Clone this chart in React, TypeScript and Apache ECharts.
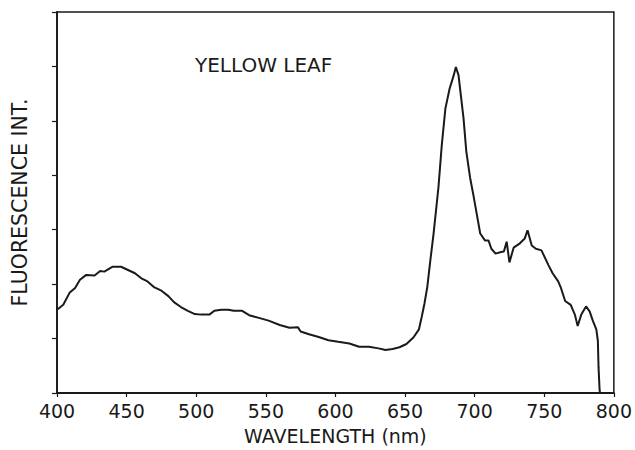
import React, { useEffect, useRef } from "react";
import * as echarts from "echarts";

const titleText = "YELLOW LEAF";
const xAxisName = "WAVELENGTH (nm)";
const yAxisName = "FLUORESCENCE INT.";
const xTicks = [400, 450, 500, 550, 600, 650, 700, 750, 800];

const wavelength = [
  400, 404.5, 409, 413, 416.5, 421, 427, 431, 434, 440, 446, 451, 456, 461, 465, 470, 475, 480, 484, 489,
  494, 499, 503.5, 509.5, 513, 518, 523, 527, 533, 538, 542, 545, 552, 560, 567, 573, 575, 581, 588, 595,
  602, 610, 617, 624, 631, 636, 641, 646, 651, 656, 660, 662, 664, 666, 668, 670.5, 674, 676.4, 679, 682,
  685, 686.5, 688.4, 692, 694, 696.7, 699, 701.5, 704, 707.5, 710, 712, 715, 719, 721, 723, 725, 728, 732.5, 736,
  738, 741, 744, 748, 753, 756, 760, 762, 765, 769, 772, 774, 776.6, 780, 782.6, 785, 787.4, 788.5, 789, 789.7,
  790,
];

const intensity = [
  1.53, 1.62, 1.84, 1.93, 2.08, 2.17, 2.16, 2.24, 2.23, 2.32, 2.32, 2.26, 2.2, 2.1, 2.05, 1.94, 1.88, 1.78, 1.67, 1.58,
  1.51, 1.45, 1.44, 1.44, 1.51, 1.53, 1.53, 1.51, 1.51, 1.43, 1.4, 1.38, 1.33, 1.25, 1.2, 1.21, 1.13, 1.08, 1.03, 0.97,
  0.94, 0.91, 0.85, 0.85, 0.82, 0.79, 0.81, 0.84, 0.9, 1.02, 1.17, 1.4, 1.65, 1.95, 2.4, 2.93, 3.78, 4.56, 5.23, 5.59,
  5.84, 5.99, 5.84, 5.05, 4.44, 3.96, 3.65, 3.29, 2.93, 2.8, 2.8, 2.65, 2.56, 2.59, 2.6, 2.78, 2.4, 2.67, 2.75, 2.84,
  2.99, 2.71, 2.65, 2.62, 2.35, 2.2, 2.05, 1.93, 1.69, 1.62, 1.44, 1.23, 1.44, 1.59, 1.5, 1.32, 1.17, 0.96, 0.47, 0.08,
  0,
];

const FONT = "DejaVu Sans";
const INK = "#1a1a1a";

export default function App() {
  const ref = useRef<HTMLDivElement>(null);
  useEffect(() => {
    if (!ref.current) return;
    const chart = echarts.init(ref.current, undefined, { renderer: "svg" });
    const data = wavelength.map((w, i) => [w, intensity[i]]);
    chart.setOption({
      animation: false,
      backgroundColor: "#ffffff",
      title: {
        text: titleText,
        left: 190,
        top: 50,
        textStyle: { fontFamily: FONT, fontSize: 20, fontWeight: "normal", color: INK },
      },
      grid: {
        left: 57,
        right: 19,
        top: 12,
        bottom: 54,
        show: true,
        borderColor: INK,
        borderWidth: 1.5,
        backgroundColor: "transparent",
      },
      xAxis: {
        type: "value",
        min: 400,
        max: 800,
        interval: 50,
        name: xAxisName,
        nameLocation: "middle",
        nameGap: 33,
        nameTextStyle: { fontFamily: FONT, fontSize: 19, color: INK },
        axisLine: { show: true, lineStyle: { color: INK, width: 1.8 } },
        axisTick: { show: true, length: 4, inside: false, lineStyle: { color: INK, width: 1.2 } },
        axisLabel: {
          fontFamily: FONT,
          fontSize: 19,
          color: INK,
          margin: 8,
          formatter: (v: number) => (xTicks.includes(v) ? String(v) : ""),
        },
        splitLine: { show: false },
      },
      yAxis: {
        type: "value",
        min: 0,
        max: 7,
        interval: 1,
        name: yAxisName,
        nameLocation: "middle",
        nameGap: 27,
        nameTextStyle: { fontFamily: FONT, fontSize: 20.5, color: INK },
        axisLine: { show: true, lineStyle: { color: INK, width: 1.8 } },
        axisTick: { show: true, length: 5, inside: false, lineStyle: { color: INK, width: 1.2 } },
        axisLabel: { show: false },
        splitLine: { show: false },
      },
      series: [
        {
          type: "line",
          data,
          showSymbol: false,
          smooth: false,
          lineStyle: { color: INK, width: 2 },
          itemStyle: { color: INK },
        },
      ],
    });
    return () => chart.dispose();
  }, []);
  return <div ref={ref} style={{ width: 635, height: 450, position: "absolute", left: 0, top: 0 }} />;
}
